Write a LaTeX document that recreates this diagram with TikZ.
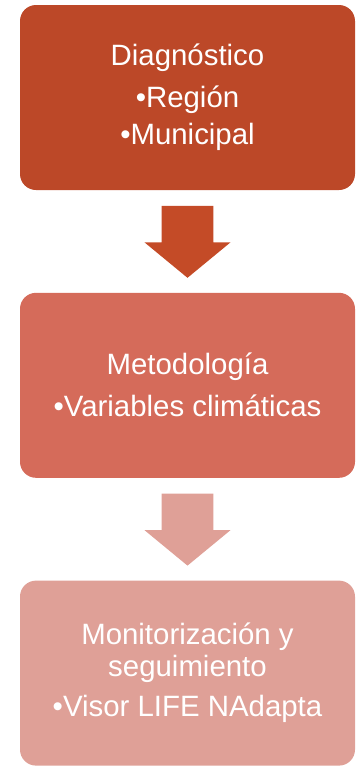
\documentclass[tikz,border=0pt]{standalone}
\usepackage{fontspec}
\setmainfont{Liberation Sans}
\usetikzlibrary{positioning, shapes.arrows, calc}
\definecolor{RustDark}{RGB}{188, 72, 40}
\definecolor{RustArrow}{RGB}{196, 75, 39}
\definecolor{RustMid}{RGB}{213, 107, 90}
\definecolor{RustLight}{RGB}{223, 160, 151}

\begin{document}
\begin{tikzpicture}[node distance=51pt]
        \tikzstyle{stage} = [rectangle, rounded corners=8pt, minimum width=167.5pt, minimum height=92.5pt, text centered, align=center, text=white, font=\fontsize{14.7pt}{16pt}\selectfont, inner sep=0pt]
        \tikzstyle{blockarrow} = [single arrow, shape border rotate=270, minimum height=36pt, inner xsep=12.75pt, inner ysep=0pt, single arrow head extend=8.5pt, single arrow tip angle=101, anchor=tail]

        \useasboundingbox (0,0) rectangle (178pt,-384pt);

        % Cajas
        \node (diag) [stage, fill=RustDark] at (93.75pt,-48.75pt) {Diagnóstico\\[5pt]•Región\\[2.5pt]•Municipal};
        \node (meto) [stage, fill=RustMid, below=of diag] {Metodología\\[5pt]•Variables climáticas};
        \node (moni) [stage, fill=RustLight, below=of meto] {Monitorización y\\seguimiento\\[4pt]•Visor LIFE NAdapta};

        % Flechas
        \node (arr1) [blockarrow, fill=RustArrow, below=7.5pt of diag.south] {};
        \node (arr2) [blockarrow, fill=RustLight, below=7.5pt of meto.south] {};
    \end{tikzpicture}
\end{document}
